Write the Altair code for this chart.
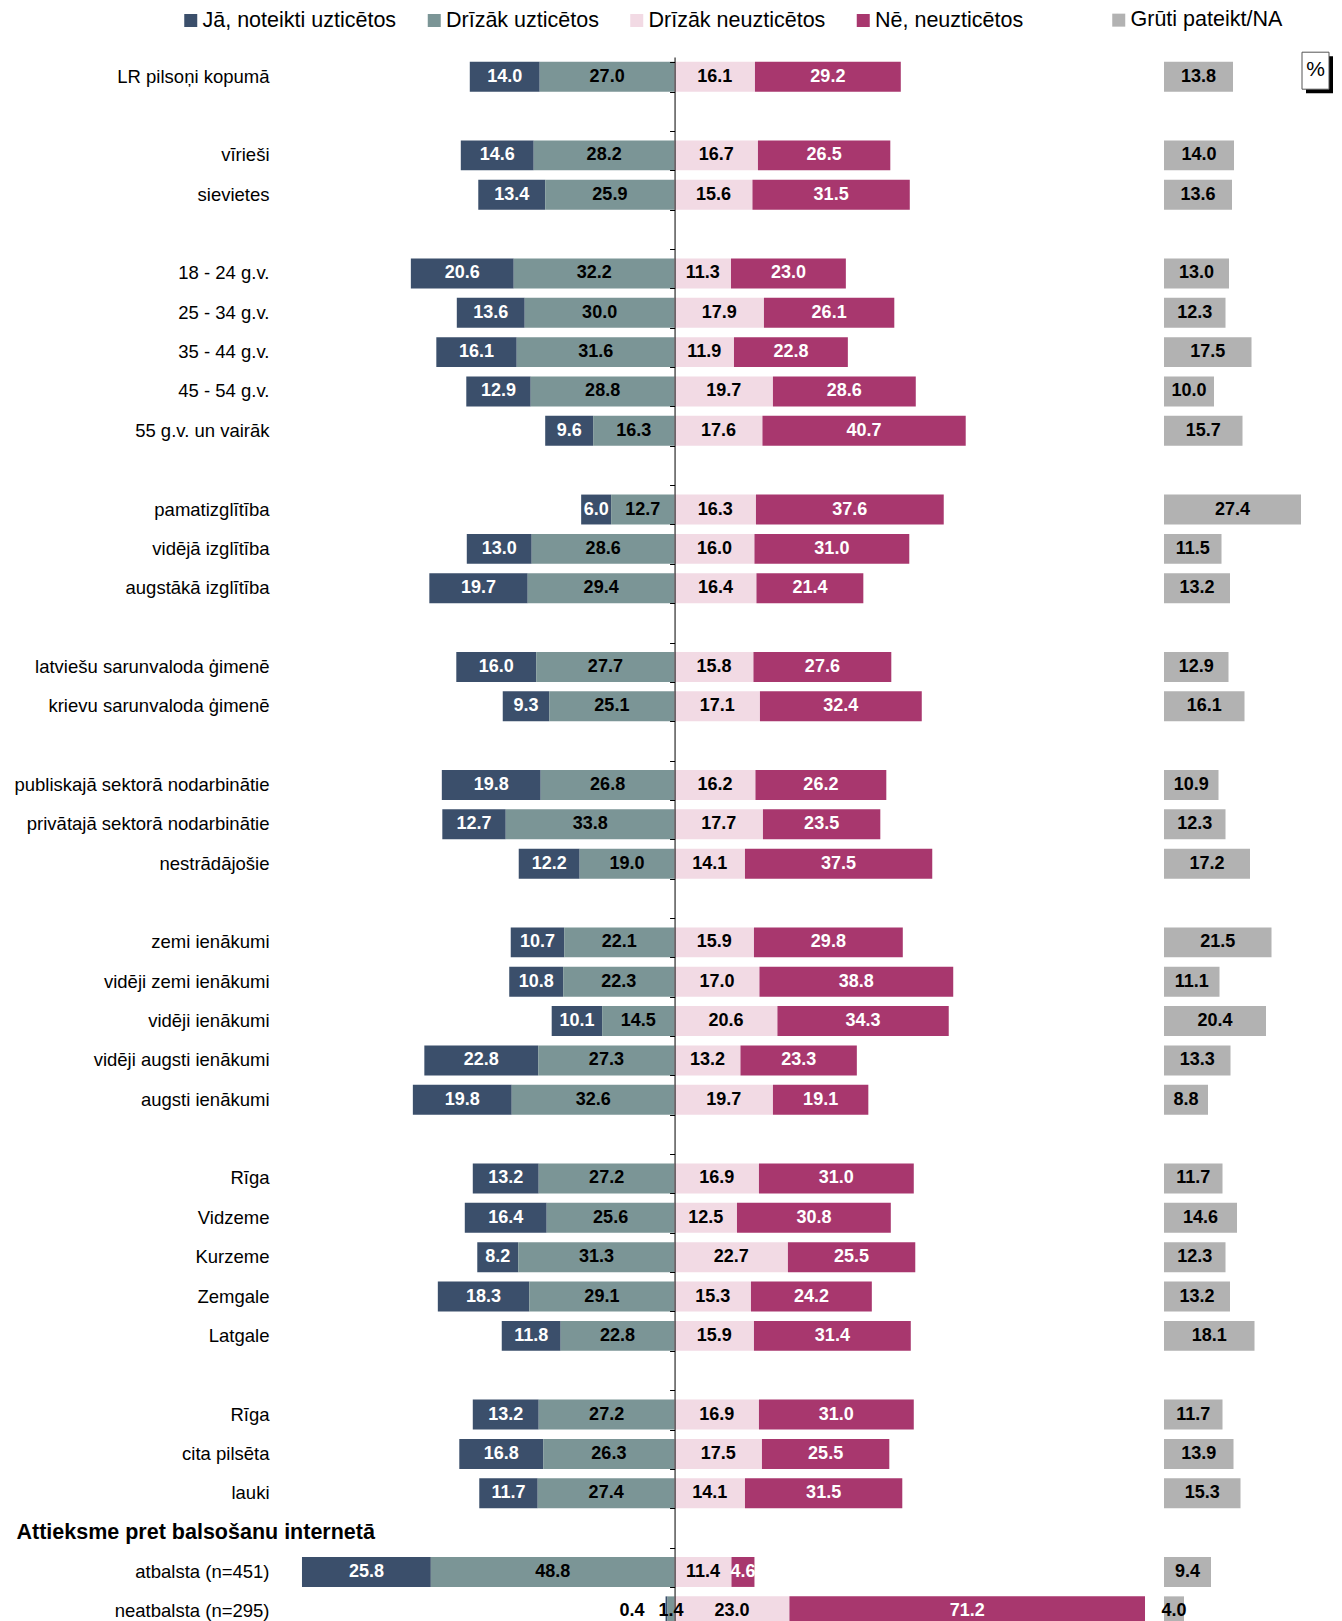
import json
import altair as alt
import pandas as pd

# ---------------- data ----------------
row_labels = [
    "LR pilsoņi kopumā", "",
    "vīrieši", "sievietes", "",
    "18 - 24 g.v.", "25 - 34 g.v.", "35 - 44 g.v.", "45 - 54 g.v.", "55 g.v. un vairāk", "",
    "pamatizglītība", "vidējā izglītība", "augstākā izglītība", "",
    "latviešu sarunvaloda ģimenē", "krievu sarunvaloda ģimenē", "",
    "publiskajā sektorā nodarbinātie", "privātajā sektorā nodarbinātie", "nestrādājošie", "",
    "zemi ienākumi", "vidēji zemi ienākumi", "vidēji ienākumi", "vidēji augsti ienākumi", "augsti ienākumi", "",
    "Rīga", "Vidzeme", "Kurzeme", "Zemgale", "Latgale", "",
    "Rīga", "cita pilsēta", "lauki",
    "Attieksme pret balsošanu internetā",
    "atbalsta (n=451)", "neatbalsta (n=295)",
]
HEADER_ROW = 37

ja = [14.0, None, 14.6, 13.4, None, 20.6, 13.6, 16.1, 12.9, 9.6, None,
      6.0, 13.0, 19.7, None, 16.0, 9.3, None, 19.8, 12.7, 12.2, None,
      10.7, 10.8, 10.1, 22.8, 19.8, None, 13.2, 16.4, 8.2, 18.3, 11.8, None,
      13.2, 16.8, 11.7, None, 25.8, 0.4]
dr_uzt = [27.0, None, 28.2, 25.9, None, 32.2, 30.0, 31.6, 28.8, 16.3, None,
          12.7, 28.6, 29.4, None, 27.7, 25.1, None, 26.8, 33.8, 19.0, None,
          22.1, 22.3, 14.5, 27.3, 32.6, None, 27.2, 25.6, 31.3, 29.1, 22.8, None,
          27.2, 26.3, 27.4, None, 48.8, 1.4]
dr_neuzt = [16.1, None, 16.7, 15.6, None, 11.3, 17.9, 11.9, 19.7, 17.6, None,
            16.3, 16.0, 16.4, None, 15.8, 17.1, None, 16.2, 17.7, 14.1, None,
            15.9, 17.0, 20.6, 13.2, 19.7, None, 16.9, 12.5, 22.7, 15.3, 15.9, None,
            16.9, 17.5, 14.1, None, 11.4, 23.0]
ne = [29.2, None, 26.5, 31.5, None, 23.0, 26.1, 22.8, 28.6, 40.7, None,
      37.6, 31.0, 21.4, None, 27.6, 32.4, None, 26.2, 23.5, 37.5, None,
      29.8, 38.8, 34.3, 23.3, 19.1, None, 31.0, 30.8, 25.5, 24.2, 31.4, None,
      31.0, 25.5, 31.5, None, 4.6, 71.2]
na = [13.8, None, 14.0, 13.6, None, 13.0, 12.3, 17.5, 10.0, 15.7, None,
      27.4, 11.5, 13.2, None, 12.9, 16.1, None, 10.9, 12.3, 17.2, None,
      21.5, 11.1, 20.4, 13.3, 8.8, None, 11.7, 14.6, 12.3, 13.2, 18.1, None,
      11.7, 13.9, 15.3, None, 9.4, 4.0]

cats = ["Jā, noteikti uzticētos", "Drīzāk uzticētos", "Drīzāk neuzticētos", "Nē, neuzticētos"]
na_cat = "Grūti pateikt/NA"
colors = ["#3B4F6B", "#7B9596", "#F2DAE4", "#A8376E"]
na_color = "#B2B2B2"

row_ids = [f"{i:02d}" for i in range(len(row_labels))]

records = []
for i, rid in enumerate(row_ids):
    if ja[i] is None:
        continue
    a, b, c, d = ja[i], dr_uzt[i], dr_neuzt[i], ne[i]
    segs = [(cats[0], a, -(a + b), -b), (cats[1], b, -b, 0.0),
            (cats[2], c, 0.0, c), (cats[3], d, c, c + d)]
    for cat, v, s, e in segs:
        records.append(dict(row=rid, cat=cat, value=v, start=s, end=e))
df = pd.DataFrame(records)
na_df = pd.DataFrame([dict(row=rid, cat=na_cat, value=na[i])
                      for i, rid in enumerate(row_ids) if na[i] is not None])

# ---------------- layout ----------------
FONT = "Liberation Sans"
X_MIN, X_MAX = -78, 96
MAIN_W = 869
NA_MAX = 34
NA_W = 170
H = 1574
PLOT_LEFT = 285.0   # page x of main plot's left edge
PLOT_TOP = 56.8     # page y of plot top
PAGE_MARGIN = 8
px_per_unit = MAIN_W / (X_MAX - X_MIN)

yscale = alt.Scale(domain=row_ids, paddingInner=0.24, paddingOuter=0.12)
xscale = alt.Scale(domain=[X_MIN, X_MAX], nice=False, zero=False)

hdr_test = f"datum.value == '{row_ids[HEADER_ROW]}'"
label_expr = "[" + ",".join(json.dumps(l, ensure_ascii=False) for l in row_labels) + "][toNumber(datum.value)]"

label_axis = alt.Axis(
    title=None, orient="left", domain=False, ticks=False, tickSize=0,
    labelExpr=label_expr, labelLimit=600, labelOverlap=False, labelColor="black",
    labelFont=FONT,
    labelFontSize={"condition": {"test": hdr_test, "value": 21.5}, "value": 18.5},
    labelFontWeight={"condition": {"test": hdr_test, "value": "bold"}, "value": "normal"},
    labelAlign={"condition": {"test": hdr_test, "value": "left"}, "value": "right"},
    labelPadding={"condition": {"test": hdr_test, "value": 269}, "value": 16},
)
center_axis = alt.Axis(
    title=None, orient="left", offset=-(0 - X_MIN) * px_per_unit,
    labels=False, domain=True, domainColor="black", domainWidth=1,
    ticks=True, tickBand="extent", tickSize=5, tickColor="black", tickWidth=1,
    zindex=1,
)

white_cond = f"datum.cat == '{cats[0]}' || datum.cat == '{cats[3]}'"

legend_common = dict(
    orient="none", direction="horizontal", title=None, symbolType="square",
    symbolSize=169, symbolStrokeWidth=0, labelFontSize=21.5, labelFont=FONT,
    labelColor="black", labelOffset=1, padding=0, labelLimit=400,
)

base = alt.Chart(df)
bars = base.mark_bar().encode(
    x=alt.X("start:Q", scale=xscale, axis=None),
    x2="end:Q",
    y=alt.Y("row:O", scale=yscale, axis=center_axis),
    color=alt.Color(
        "cat:N",
        scale=alt.Scale(domain=cats, range=colors),
        legend=alt.Legend(legendX=-105, legendY=-47.6, columnPadding=26.5, **legend_common),
    ),
)
labels_big = base.transform_filter("datum.value >= 1").transform_calculate(
    mid="(datum.start + datum.end) / 2"
).mark_text(fontSize=18, fontWeight="bold", font=FONT, baseline="middle").encode(
    x=alt.X("mid:Q", scale=xscale, axis=None),
    y=alt.Y("row:O", scale=yscale, axis=label_axis),
    text=alt.Text("value:Q", format=".1f"),
    color=alt.condition(white_cond, alt.value("white"), alt.value("black")),
)
labels_small = base.transform_filter("datum.value < 1").mark_text(
    fontSize=18, fontWeight="bold", font=FONT, baseline="middle", align="right", dx=-21
).encode(
    x=alt.X("start:Q", scale=xscale, axis=None),
    y=alt.Y("row:O", scale=yscale, axis=None),
    text=alt.Text("value:Q", format=".1f"),
    color=alt.value("black"),
)

unit_df = pd.DataFrame({"s": ["%"]})
# invisible anchor that fixes the chart's top-left corner on the page
anchor = alt.Chart(unit_df).mark_rect(opacity=0).encode(
    x=alt.value(-(PLOT_LEFT - PAGE_MARGIN)), x2=alt.value(-(PLOT_LEFT - PAGE_MARGIN) + 1),
    y=alt.value(-(PLOT_TOP - PAGE_MARGIN)), y2=alt.value(-(PLOT_TOP - PAGE_MARGIN) + 1),
)

main = alt.layer(bars, labels_big, labels_small, anchor).resolve_axis(y="independent").properties(
    width=MAIN_W, height=H
)

na_base = alt.Chart(na_df)
na_xscale = alt.Scale(domain=[0, NA_MAX], nice=False, zero=False)
na_bars = na_base.mark_bar().encode(
    x=alt.X("value:Q", scale=na_xscale, axis=None),
    y=alt.Y("row:O", scale=yscale, axis=None),
    color=alt.Color(
        "cat:N",
        scale=alt.Scale(domain=[na_cat], range=[na_color]),
        legend=alt.Legend(legendX=-56, legendY=-47.6, **legend_common),
    ),
)
na_labels = na_base.transform_calculate(mid="datum.value / 2").mark_text(
    fontSize=18, fontWeight="bold", font=FONT, baseline="middle", color="black"
).encode(
    x=alt.X("mid:Q", scale=na_xscale, axis=None),
    y=alt.Y("row:O", scale=yscale, axis=None),
    text=alt.Text("value:Q", format=".1f"),
)

shadow = alt.Chart(unit_df).mark_rect(color="black").encode(
    x=alt.value(142), x2=alt.value(169), y=alt.value(-0.8), y2=alt.value(36.2)
)
box = alt.Chart(unit_df).mark_rect(fill="white", stroke="#555555", strokeWidth=1).encode(
    x=alt.value(138), x2=alt.value(165), y=alt.value(-4.8), y2=alt.value(32.2)
)
pct = alt.Chart(unit_df).mark_text(fontSize=21, font=FONT, color="black", baseline="middle").encode(
    x=alt.value(151.5), y=alt.value(13), text="s:N"
)

na_panel = alt.layer(na_bars, na_labels, shadow, box, pct).properties(width=NA_W, height=H)

chart = alt.hconcat(main, na_panel, spacing=10, bounds="flush").resolve_scale(
    color="independent"
).properties(
    padding={"left": 0, "top": 0, "right": 0, "bottom": 0}
).configure(font=FONT).configure_view(stroke=None)

chart.save("out.html", embed_options={"renderer": "svg", "actions": False})
